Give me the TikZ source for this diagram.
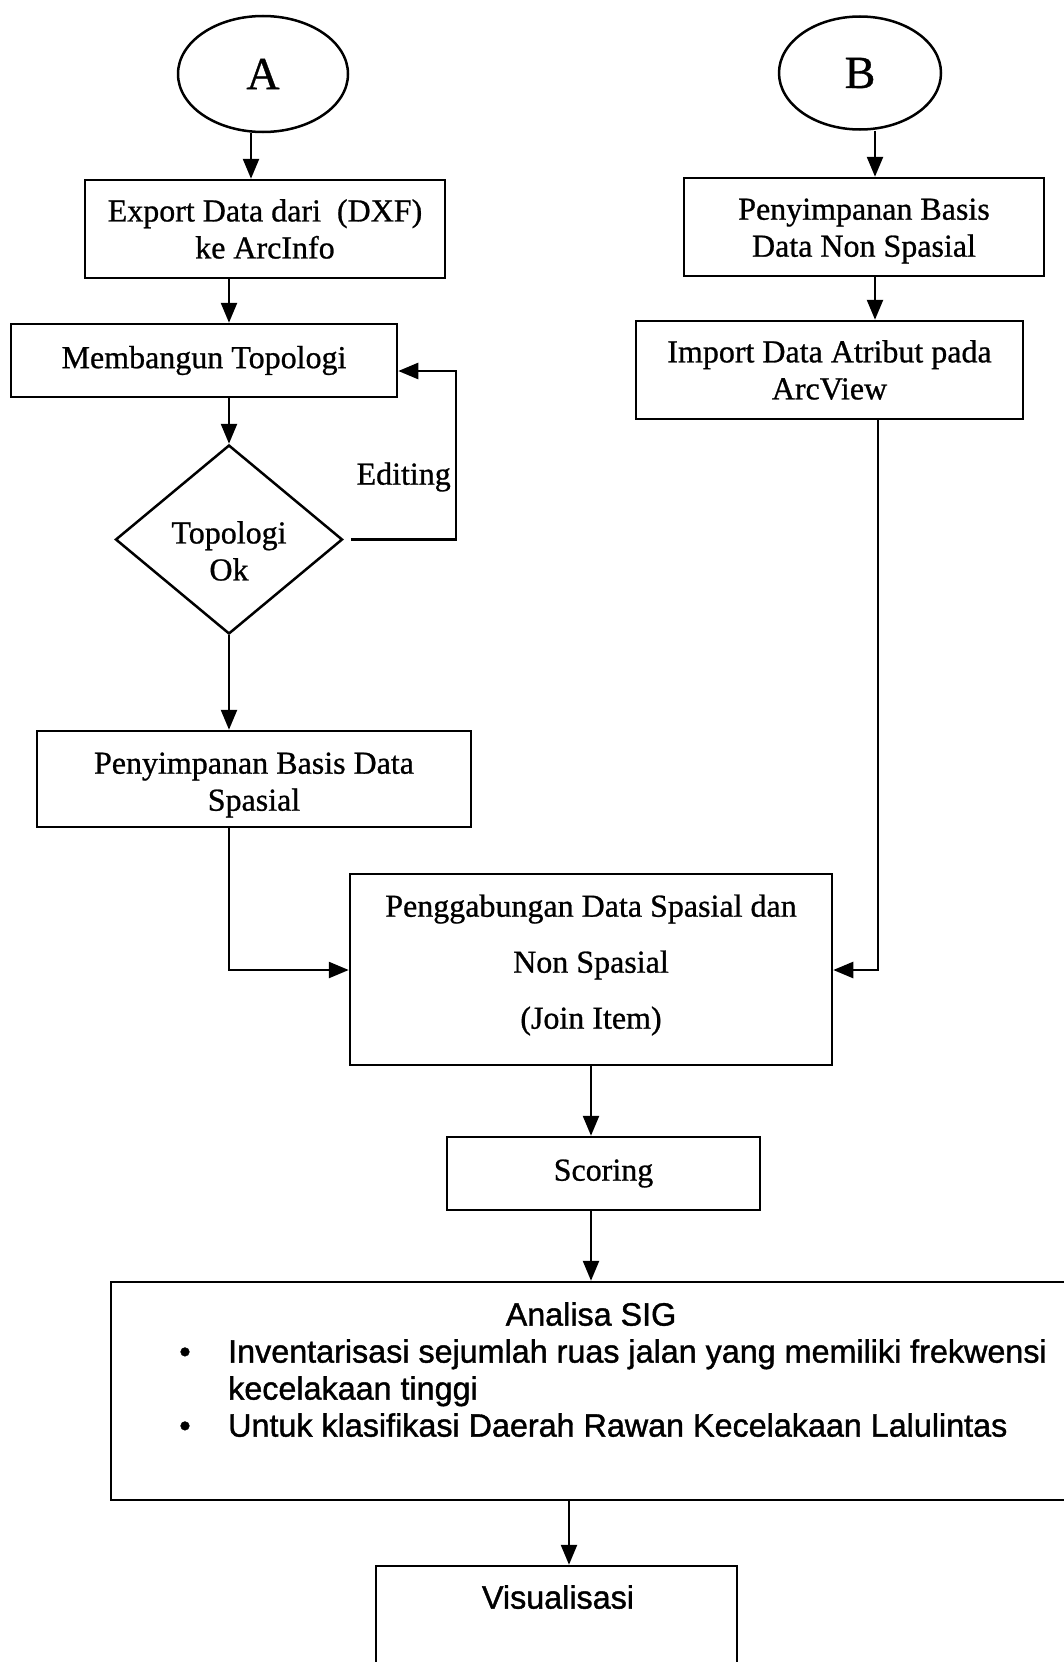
\documentclass[tikz,border=0pt]{standalone}
\usepackage{fontspec}
\setmainfont[FakeBold=0.8]{Liberation Serif}
\newfontfamily\sansf[FakeBold=1.2]{Liberation Sans}
\usetikzlibrary{shapes.geometric,arrows.meta}
\begin{document}
\begin{tikzpicture}[x=1pt,y=-1pt,
  box/.style={draw,line width=2.5pt,rectangle,inner sep=0pt,align=center,
    font=\fontsize{32}{37}\selectfont},
  conn/.style={ellipse,draw,line width=2.5pt,inner sep=0pt,
    font=\fontsize{46}{50}\selectfont},
  decision/.style={diamond,draw,line width=2.5pt,inner sep=0pt},
  txt/.style={inner sep=0pt,align=center,font=\fontsize{32}{37}\selectfont},
  stxt/.style={inner sep=0pt,font=\sansf\fontsize{32.3}{37}\selectfont,
    text height=0.72em,text depth=0.2em},
  arr/.style={line width=2.5pt,-{Triangle[length=20pt,width=16pt]}}]
\useasboundingbox (0,0) rectangle (1064,1662);
\clip (0,0) rectangle (1064,1662);
\fill[white] (0,0) rectangle (1064,1662);

% column positions of the connectors
\coordinate (cL) at (229,0);
\coordinate (cA) at (251,0);
\coordinate (cB) at (875,0);
\coordinate (cR) at (878,0);
\coordinate (cM) at (591,0);
\coordinate (cV) at (569,0);
\coordinate (cE) at (456,0);
\coordinate (yE) at (0,371);
\coordinate (yJ) at (0,970);

% left branch
\node[conn,minimum width=170pt,minimum height=116pt] (A) at (263,74) {A};
\node[box,minimum width=360pt,minimum height=98pt] (export) at (265,229)
  {Export Data dari\ \ (DXF)\\ke ArcInfo};
\node[box,minimum width=386pt,minimum height=73pt] (topo) at (204,360.5)
  {Membangun Topologi};
\node[decision,minimum width=227pt,minimum height=189pt] (ok) at (229,539.5) {};
\node[txt] (oktext) at (229,551) {Topologi\\Ok};
\node[txt,anchor=east] (edit) at (451,477) {Editing};
\node[box,minimum width=434pt,minimum height=96pt] (spasial) at (254,779) {};
\node[txt] (spasialtext) at (254,785) {Penyimpanan Basis Data\\Spasial};

% right branch
\node[conn,minimum width=162pt,minimum height=113pt] (B) at (860,73) {B};
\node[box,minimum width=360pt,minimum height=98pt] (nonsp) at (864,227) {};
\node[txt] (nonsptext) at (864,231) {Penyimpanan Basis\\Data Non Spasial};
\node[box,minimum width=387pt,minimum height=98pt] (import) at (829.5,370)
  {Import Data Atribut pada\\ArcView};

% joined flow
\node[box,minimum width=482pt,minimum height=191pt] (join) at (591,969.5) {};
\node[txt,font=\fontsize{32}{56}\selectfont] (jointext) at (591,965)
  {Penggabungan Data Spasial dan\\Non Spasial\\(Join Item)};
\node[box,minimum width=313pt,minimum height=73pt] (score) at (603.5,1173.5)
  {Scoring};
\node[box,minimum width=979pt,minimum height=218pt] (sig) at (600.5,1391) {};
\node[stxt] (sigtitle) at (591,1323) {Analisa SIG};
\node[stxt] (dot1) at (185,1360) {\textbullet};
\node[stxt,anchor=west] (item1) at (228,1360)
  {Inventarisasi sejumlah ruas jalan yang memiliki frekwensi};
\node[stxt,anchor=west] (item1b) at (228,1397) {kecelakaan tinggi};
\node[stxt] (dot2) at (185,1434) {\textbullet};
\node[stxt,anchor=west] (item2) at (228,1434)
  {Untuk klasifikasi Daerah Rawan Kecelakaan Lalulintas};
\node[box,minimum width=361pt,minimum height=134pt] (visual) at (556.5,1633) {};
\node[stxt] (vistitle) at (558,1606) {Visualisasi};

% connectors
\draw[arr] (A.south -| cA) -- (export.north -| cA);
\draw[arr] (export.south -| cL) -- (topo.north -| cL);
\draw[arr] (topo.south -| cL) -- (ok.north);
\draw[arr] (ok.south) -- (spasial.north -| ok.south);
\draw[arr,shorten <=7pt] (ok.east) -| (cE |- yE) -- (topo.east |- yE);
\draw[arr] (spasial.south -| cL) |- (join.west |- yJ);
\draw[arr] (B.south -| cB) -- (nonsp.north -| cB);
\draw[arr] (nonsp.south -| cB) -- (import.north -| cB);
\draw[arr] (import.south -| cR) |- (join.east |- yJ);
\draw[arr] (join.south -| cM) -- (score.north -| cM);
\draw[arr] (score.south -| cM) -- (sig.north -| cM);
\draw[arr] (sig.south -| cV) -- (visual.north -| cV);
\end{tikzpicture}
\end{document}
